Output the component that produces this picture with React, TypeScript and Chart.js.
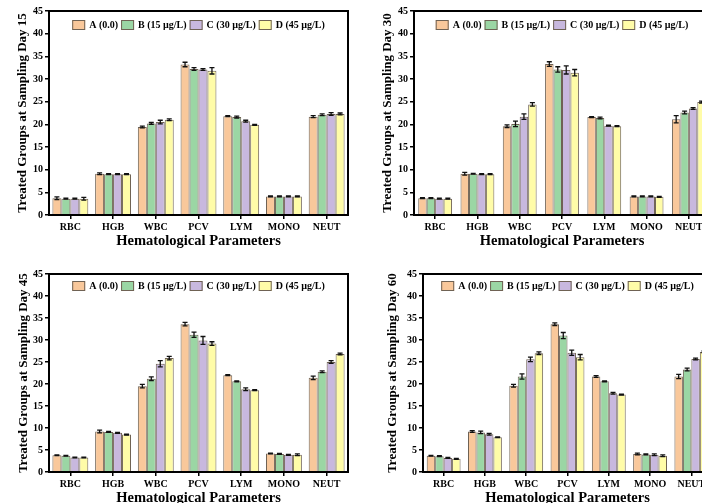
import React, { useEffect, useRef } from 'react';
import { Chart, registerables } from 'chart.js';
Chart.register(...registerables);

const categories = ['RBC', 'HGB', 'WBC', 'PCV', 'LYM', 'MONO', 'NEUT'];
const groupLabels = ['A (0.0)', 'B (15 µg/L)', 'C (30 µg/L)', 'D (45 µg/L)'];
const groupColors = ['#F9C89B', '#9BD6A4', '#C8B8DE', '#FFFCA8'];
const yMin = 0;
const yMax = 45;
const yStep = 5;
const xTitle = 'Hematological Parameters';

// Day 15
const day15A = [3.7, 9.1, 19.4, 33.2, 21.8, 4.1, 21.7];
const day15B = [3.6, 9.0, 20.2, 32.2, 21.6, 4.1, 22.1];
const day15C = [3.6, 9.0, 20.5, 32.1, 20.7, 4.1, 22.3];
const day15D = [3.6, 9.0, 21.0, 31.8, 19.9, 4.1, 22.3];
const day15ErrA = [0.3, 0.2, 0.2, 0.5, 0.1, 0.1, 0.2];
const day15ErrB = [0.1, 0.1, 0.2, 0.3, 0.2, 0.1, 0.2];
const day15ErrC = [0.1, 0.1, 0.4, 0.2, 0.2, 0.1, 0.3];
const day15ErrD = [0.3, 0.1, 0.2, 0.7, 0.1, 0.1, 0.2];

// Day 30
const day30A = [3.7, 9.1, 19.6, 33.3, 21.6, 4.1, 21.1];
const day30B = [3.7, 9.1, 20.1, 32.1, 21.4, 4.1, 22.6];
const day30C = [3.6, 9.0, 21.7, 32.0, 19.7, 4.1, 23.5];
const day30D = [3.6, 9.0, 24.4, 31.4, 19.6, 4.0, 24.9];
const day30ErrA = [0.1, 0.3, 0.3, 0.5, 0.1, 0.1, 0.8];
const day30ErrB = [0.1, 0.1, 0.6, 0.6, 0.2, 0.1, 0.3];
const day30ErrC = [0.1, 0.1, 0.6, 0.9, 0.1, 0.1, 0.2];
const day30ErrD = [0.1, 0.1, 0.4, 0.7, 0.1, 0.1, 0.2];

// Day 45
const day45A = [3.8, 9.2, 19.5, 33.6, 22.0, 4.2, 21.4];
const day45B = [3.7, 9.1, 21.2, 31.2, 20.6, 4.1, 22.8];
const day45C = [3.3, 8.9, 24.6, 29.9, 18.8, 3.9, 25.0];
const day45D = [3.3, 8.5, 25.9, 29.2, 18.6, 3.9, 26.8];
const day45ErrA = [0.1, 0.3, 0.4, 0.4, 0.1, 0.1, 0.4];
const day45ErrB = [0.1, 0.1, 0.4, 0.6, 0.1, 0.1, 0.2];
const day45ErrC = [0.1, 0.1, 0.7, 0.9, 0.3, 0.1, 0.3];
const day45ErrD = [0.1, 0.1, 0.4, 0.4, 0.1, 0.2, 0.2];

// Day 60
const day60A = [3.7, 9.2, 19.6, 33.6, 21.7, 4.1, 21.7];
const day60B = [3.6, 9.0, 21.7, 31.0, 20.6, 4.0, 23.3];
const day60C = [3.2, 8.6, 25.6, 27.1, 17.9, 3.9, 25.7];
const day60D = [3.0, 7.9, 27.0, 26.1, 17.6, 3.7, 27.3];
const day60ErrA = [0.1, 0.2, 0.3, 0.3, 0.2, 0.2, 0.5];
const day60ErrB = [0.1, 0.3, 0.6, 0.7, 0.1, 0.1, 0.3];
const day60ErrC = [0.1, 0.2, 0.5, 0.6, 0.2, 0.2, 0.2];
const day60ErrD = [0.1, 0.1, 0.3, 0.6, 0.1, 0.2, 0.2];

const FONT = '"Liberation Serif", "Times New Roman", serif';

const errorBarPlugin = {
  id: 'errorBars',
  afterDatasetsDraw(chart: any) {
    const ctx = chart.ctx;
    const yScale = chart.scales.y;
    ctx.save();
    ctx.strokeStyle = '#111';
    ctx.lineWidth = 1.3;
    chart.data.datasets.forEach((ds: any, i: number) => {
      const meta = chart.getDatasetMeta(i);
      meta.data.forEach((bar: any, j: number) => {
        const v = ds.data[j];
        const e = ds.errors ? ds.errors[j] : 0;
        const x = bar.x;
        const yT = yScale.getPixelForValue(v + e);
        const yB = yScale.getPixelForValue(v - e);
        const cap = 2.5;
        ctx.beginPath();
        ctx.moveTo(x, yT);
        ctx.lineTo(x, yB);
        ctx.moveTo(x - cap, yT);
        ctx.lineTo(x + cap, yT);
        ctx.moveTo(x - cap, yB);
        ctx.lineTo(x + cap, yB);
        ctx.stroke();
      });
    });
    ctx.restore();
  },
};

const framePlugin = {
  id: 'frame',
  afterDraw(chart: any) {
    const { ctx, chartArea } = chart;
    ctx.save();
    ctx.strokeStyle = '#000';
    ctx.lineWidth = 2;
    ctx.strokeRect(chartArea.left, chartArea.top, chartArea.right - chartArea.left, chartArea.bottom - chartArea.top);
    ctx.restore();
  },
};

const innerLegendPlugin = {
  id: 'innerLegend',
  afterDraw(chart: any, _args: any, opts: any) {
    const { ctx, chartArea } = chart;
    const boxW = 13;
    const boxH = 10;
    const gapText = 4;
    const gapItem = 3;
    ctx.save();
    ctx.font = `bold 10px ${FONT}`;
    const items = chart.data.datasets.map((ds: any) => ({
      label: ds.label,
      color: ds.backgroundColor,
      w: boxW + gapText + ctx.measureText(ds.label).width,
    }));
    const total = items.reduce((s: number, it: any) => s + it.w, 0) + gapItem * (items.length - 1);
    let x = (chartArea.left + chartArea.right) / 2 - total / 2;
    const cy = chartArea.top + (opts.offset || 14);
    ctx.textBaseline = 'middle';
    ctx.textAlign = 'left';
    items.forEach((it: any) => {
      ctx.fillStyle = it.color;
      ctx.fillRect(x, cy - boxH / 2, boxW, boxH);
      ctx.strokeStyle = '#6F6254';
      ctx.lineWidth = 1;
      ctx.strokeRect(x + 0.5, cy - boxH / 2 + 0.5, boxW - 1, boxH - 1);
      ctx.fillStyle = '#000';
      ctx.fillText(it.label, x + boxW + gapText, cy + 0.5);
      x += it.w + gapItem;
    });
    ctx.restore();
  },
};

type PanelProps = {
  left: number;
  top: number;
  width: number;
  height: number;
  yTitle: string;
  series: number[][];
  errors: number[][];
  legendOffset: number;
  yTitlePad: number;
  padRight: number;
  catPct: number;
};

function Panel(props: PanelProps) {
  const ref = useRef<HTMLCanvasElement | null>(null);
  useEffect(() => {
    if (!ref.current) return;
    const chart = new Chart(ref.current, {
      type: 'bar',
      data: {
        labels: categories,
        datasets: props.series.map((d, i) => ({
          label: groupLabels[i],
          data: d,
          errors: props.errors[i],
          backgroundColor: groupColors[i],
          borderColor: '#6F6254',
          borderWidth: 1,
          categoryPercentage: props.catPct,
          barPercentage: 1,
        })) as any,
      },
      options: {
        responsive: false,
        animation: false,
        devicePixelRatio: 1,
        layout: { padding: { left: 0, top: 11, right: props.padRight, bottom: 0 } },
        plugins: {
          legend: { display: false },
          tooltip: { enabled: false },
          innerLegend: { offset: props.legendOffset },
        } as any,
        scales: {
          x: {
            grid: { display: true, offset: false, drawOnChartArea: false, drawTicks: true, tickLength: 4, color: '#000', lineWidth: 1.5 },
            border: { display: false },
            ticks: { color: '#000', font: { family: FONT, size: 10, weight: 'bold' }, padding: 2, maxRotation: 0, autoSkip: false },
            title: { display: true, text: xTitle, color: '#000', font: { family: FONT, size: 14.5, weight: 'bold' }, padding: { top: 0, bottom: 0 } },
            afterFit: (s: any) => { s.height = 35; },
          },
          y: {
            min: yMin,
            max: yMax,
            grid: { display: true, drawOnChartArea: false, drawTicks: true, tickLength: 4, color: '#000', lineWidth: 1.5 },
            border: { display: false },
            ticks: { stepSize: yStep, color: '#000', font: { family: FONT, size: 10, weight: 'bold' }, padding: 2 },
            title: { display: true, text: props.yTitle, color: '#000', font: { family: FONT, size: 13, weight: 'bold' }, padding: { top: props.yTitlePad, bottom: 0 } },
            afterFit: (s: any) => { s.width = 49; },
          },
        },
      } as any,
      plugins: [errorBarPlugin, framePlugin, innerLegendPlugin],
    });
    return () => chart.destroy();
  }, []);
  return (
    <canvas
      ref={ref}
      width={props.width}
      height={props.height}
      style={{ position: 'absolute', left: props.left, top: props.top, width: props.width, height: props.height }}
    />
  );
}

export default function App() {
  return (
    <div style={{ position: 'fixed', left: 0, top: 0, width: 702, height: 503, overflow: 'hidden', background: '#fff' }}>
      <Panel left={0} top={0} width={352} height={250} yTitle="Treated Groups at Sampling Day 15"
        series={[day15A, day15B, day15C, day15D]} errors={[day15ErrA, day15ErrB, day15ErrC, day15ErrD]}
        legendOffset={14} yTitlePad={15} padRight={4} catPct={0.84} />
      <Panel left={365} top={0} width={352} height={250} yTitle="Treated Groups at Sampling Day 30"
        series={[day30A, day30B, day30C, day30D]} errors={[day30ErrA, day30ErrB, day30ErrC, day30ErrD]}
        legendOffset={14} yTitlePad={15} padRight={7} catPct={0.8} />
      <Panel left={0} top={263} width={352} height={244} yTitle="Treated Groups at Sampling Day 45"
        series={[day45A, day45B, day45C, day45D]} errors={[day45ErrA, day45ErrB, day45ErrC, day45ErrD]}
        legendOffset={12} yTitlePad={16} padRight={4} catPct={0.84} />
      <Panel left={374} top={263} width={352} height={244} yTitle="Treated Groups at Sampling Day 60"
        series={[day60A, day60B, day60C, day60D]} errors={[day60ErrA, day60ErrB, day60ErrC, day60ErrD]}
        legendOffset={12} yTitlePad={11} padRight={14} catPct={0.82} />
    </div>
  );
}
